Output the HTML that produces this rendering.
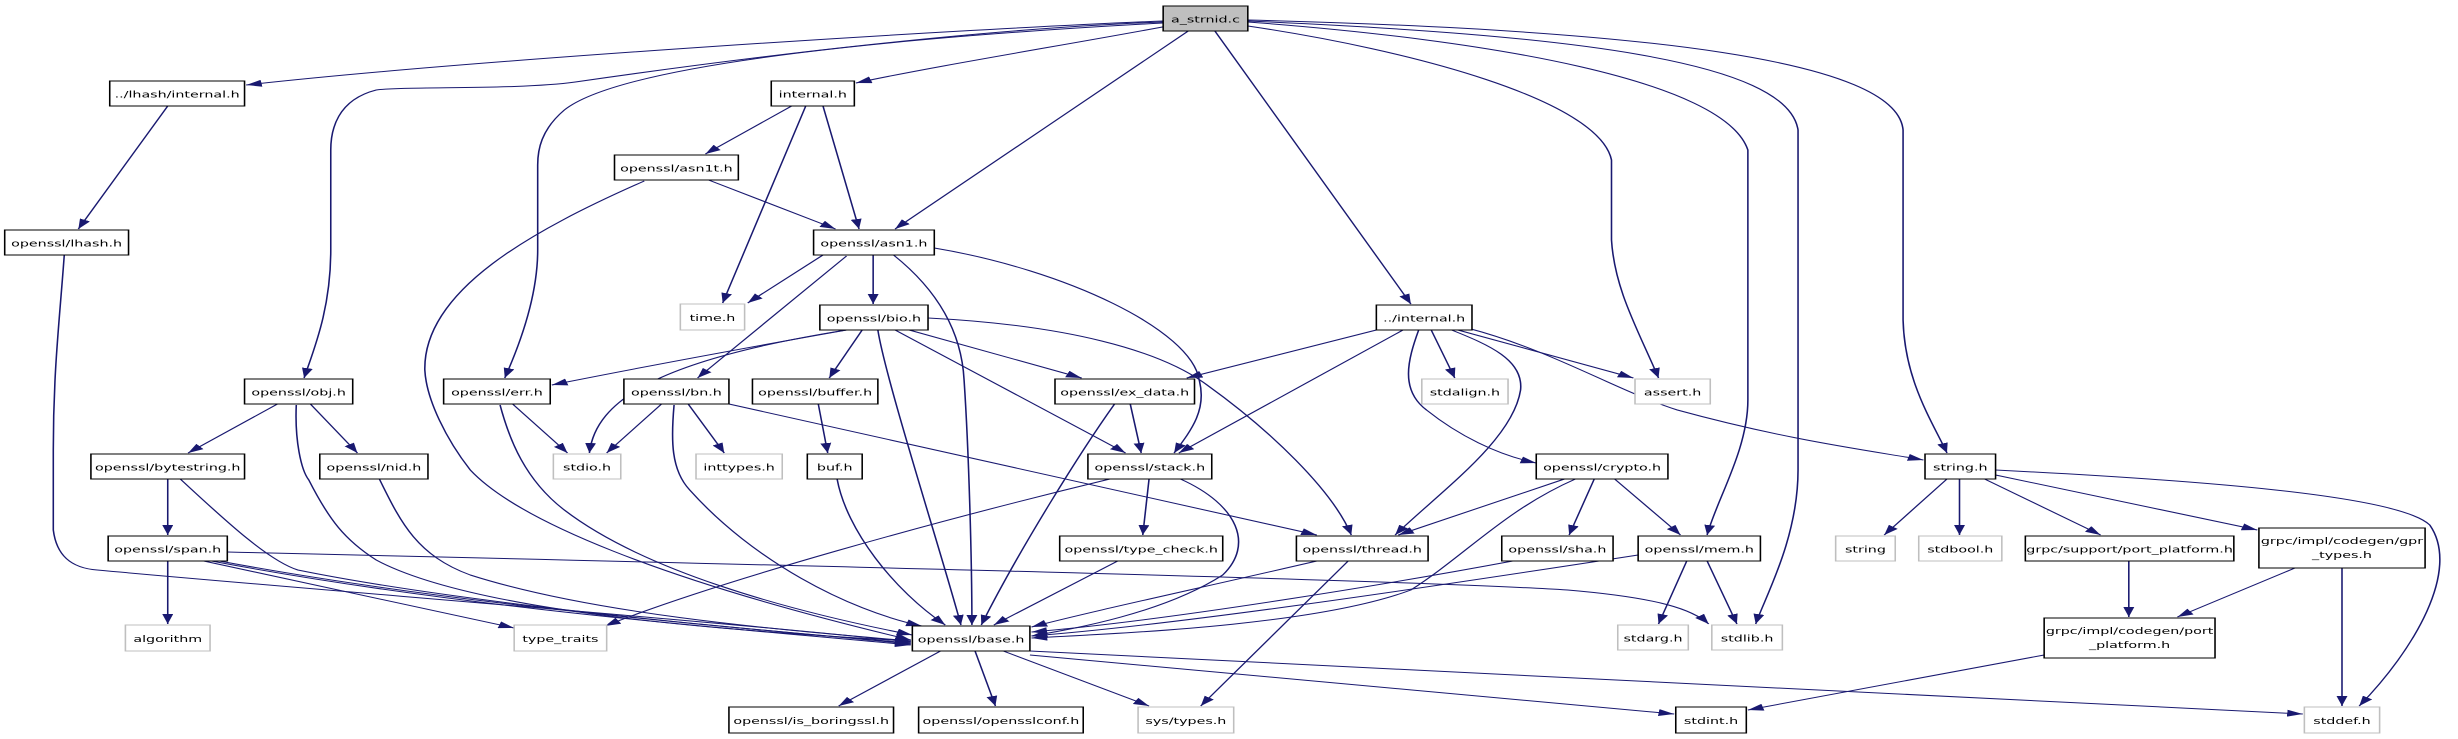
<!DOCTYPE html>
<html><head><meta charset="utf-8"><style>
html,body{margin:0;padding:0;background:#fff;}
svg{display:block;}
text{font-family:"DejaVu Sans","Liberation Sans",sans-serif;font-size:9.1px;fill:#000;text-anchor:middle;}
.e{fill:none;stroke:#191970;stroke-width:1;marker-end:url(#a);}
.n{fill:#fff;stroke:#000;stroke-width:1;}
.g{fill:#fff;stroke:#bfbfbf;stroke-width:1;}
</style></head><body>
<svg width="2458" height="739" viewBox="0 0 1568 739" preserveAspectRatio="none" xmlns="http://www.w3.org/2000/svg">
<defs><marker id="a" markerUnits="userSpaceOnUse" markerWidth="10" markerHeight="7" refX="10" refY="3.5" orient="auto"><path d="M0,0 L10,3.5 L0,7 z" fill="#191970"/></marker></defs>
<g>
<path class="e" d="M742,21 C600,30 300,60 157,85"/>
<path class="e" d="M742,22 C600,30 420,70 367,82 C330,90 260,86 240,90 C215,100 211,130 211,150 L211,250 C211,310 200,350 194,378"/>
<path class="e" d="M742,23 C600,35 400,60 360,110 C345,130 343,150 343,165 L343,250 C343,300 330,350 322,378"/>
<path class="e" d="M745,26 C680,45 600,65 546,83"/>
<path class="e" d="M758,31 L571,229"/>
<path class="e" d="M775,31 L900,304"/>
<path class="e" d="M796,26 C900,50 1020,100 1028,160 L1028,240 C1030,290 1045,330 1058,378"/>
<path class="e" d="M796,22 C950,40 1100,80 1115,150 L1115,400 C1115,450 1095,500 1089,535"/>
<path class="e" d="M796,21 C1000,35 1140,60 1147,130 L1147,470 C1147,540 1125,600 1120,624"/>
<path class="e" d="M796,20 C1050,30 1210,60 1214,130 L1214,320 C1215,380 1232,420 1242,453"/>
<path class="e" d="M107,106 L50,229"/>
<path class="e" d="M41,255 C38,320 34,370 34,450 L34,530 C36,555 45,568 62,570 C200,590 450,620 581,642"/>
<path class="e" d="M505,106 L450,154"/>
<path class="e" d="M514,106 L461,303"/>
<path class="e" d="M525,106 L548,229"/>
<path class="e" d="M452,180 L533,229"/>
<path class="e" d="M411,181 C340,230 270,290 271,370 C272,400 285,440 300,470 C330,520 420,580 581,640"/>
<path class="e" d="M525,255 L477,303"/>
<path class="e" d="M540,256 L445,378"/>
<path class="e" d="M557,255 L557,304"/>
<path class="e" d="M596,248 C680,270 760,330 765,380 C770,410 760,430 749,453"/>
<path class="e" d="M570,255 C590,280 613,320 615,380 C618,450 620,560 620,625"/>
<path class="e" d="M540,330 C450,355 400,370 352,385"/>
<path class="e" d="M540,330 C420,360 380,400 376,453"/>
<path class="e" d="M550,330 L529,378"/>
<path class="e" d="M580,330 L690,378"/>
<path class="e" d="M571,330 L718,453"/>
<path class="e" d="M560,330 C565,380 600,550 613,625"/>
<path class="e" d="M592,318 C680,325 740,350 770,385 C810,430 850,490 862,535"/>
<path class="e" d="M878,330 L757,378"/>
<path class="e" d="M895,330 L752,453"/>
<path class="e" d="M913,330 L928,378"/>
<path class="e" d="M930,330 L1042,378"/>
<path class="e" d="M905,330 C898,360 893,390 910,410 C930,435 955,455 980,463"/>
<path class="e" d="M926,330 C950,345 972,360 970,390 C965,440 920,490 890,535"/>
<path class="e" d="M936,328 C990,350 1030,390 1070,410 C1140,440 1190,450 1227,460"/>
<path class="e" d="M177,404 L120,453"/>
<path class="e" d="M198,404 L228,453"/>
<path class="e" d="M189,405 C188,440 192,470 197,480 C210,520 220,540 240,560 C300,610 450,630 581,641"/>
<path class="e" d="M327,404 L362,453"/>
<path class="e" d="M319,405 C325,440 335,480 360,510 C410,570 500,610 582,635"/>
<path class="e" d="M422,404 L387,453"/>
<path class="e" d="M439,404 L462,453"/>
<path class="e" d="M430,405 C428,440 428,470 440,490 C480,560 540,610 588,626"/>
<path class="e" d="M465,404 L840,535"/>
<path class="e" d="M522,404 L528,453"/>
<path class="e" d="M534,479 C540,530 570,590 603,625"/>
<path class="e" d="M721,404 L728,453"/>
<path class="e" d="M711,404 C690,450 650,550 626,625"/>
<path class="e" d="M733,479 L729,535"/>
<path class="e" d="M708,479 C600,520 460,580 386,626"/>
<path class="e" d="M753,479 C790,505 800,545 780,575 C740,615 680,630 658,636"/>
<path class="e" d="M107,479 L107,535"/>
<path class="e" d="M115,479 C140,515 170,560 190,570 C300,605 480,630 581,643"/>
<path class="e" d="M242,479 C255,520 265,555 300,575 C380,615 500,630 581,641"/>
<path class="e" d="M107,561 L107,624"/>
<path class="e" d="M130,561 L328,628"/>
<path class="e" d="M135,561 C300,610 480,630 581,645"/>
<path class="e" d="M140,561 C300,608 480,628 581,644"/>
<path class="e" d="M145,552 C500,565 900,580 1000,590 C1060,598 1080,610 1090,624"/>
<path class="e" d="M713,561 L634,625"/>
<path class="e" d="M840,561 C760,590 700,610 658,627"/>
<path class="e" d="M860,561 L766,706"/>
<path class="e" d="M998,479 L892,535"/>
<path class="e" d="M1005,479 C960,510 935,555 900,590 C840,625 720,633 658,638"/>
<path class="e" d="M1017,479 L1001,535"/>
<path class="e" d="M1030,479 L1072,535"/>
<path class="e" d="M965,561 C900,580 750,620 658,632"/>
<path class="e" d="M1045,555 C900,590 750,625 658,636"/>
<path class="e" d="M1076,561 L1058,624"/>
<path class="e" d="M1089,561 L1108,624"/>
<path class="e" d="M1242,479 L1202,535"/>
<path class="e" d="M1250,479 L1250,535"/>
<path class="e" d="M1266,479 L1340,535"/>
<path class="e" d="M1273,475 L1440,530"/>
<path class="e" d="M1273,470 C1400,480 1530,495 1550,525 C1570,570 1540,650 1505,706"/>
<path class="e" d="M1358,561 L1358,617"/>
<path class="e" d="M1464,568 L1389,617"/>
<path class="e" d="M1494,568 L1494,706"/>
<path class="e" d="M1304,655 L1115,710"/>
<path class="e" d="M600,651 L535,706"/>
<path class="e" d="M622,651 L635,706"/>
<path class="e" d="M640,651 L733,706"/>
<path class="e" d="M657,655 L1068,714"/>
<path class="e" d="M657,651 L1469,714"/>
</g>
<g>
<rect x="742" y="6" width="54" height="25" fill="#bfbfbf" stroke="#000"/><text x="769" y="22.5">a_strnid.c</text>
<rect class="n" x="70" y="81" width="86" height="25"/><text x="113" y="97.5">../lhash/internal.h</text>
<rect class="n" x="3" y="230" width="79" height="25"/><text x="42.5" y="246.5">openssl/lhash.h</text>
<rect class="n" x="492" y="81" width="53" height="25"/><text x="518.5" y="97.5">internal.h</text>
<rect class="n" x="392" y="155" width="79" height="25"/><text x="431.5" y="171.5">openssl/asn1t.h</text>
<rect class="n" x="519" y="230" width="77" height="25"/><text x="557.5" y="246.5">openssl/asn1.h</text>
<rect class="g" x="434" y="304" width="41" height="26"/><text x="454.5" y="321">time.h</text>
<rect class="n" x="523" y="305" width="69" height="25"/><text x="557.5" y="321.5">openssl/bio.h</text>
<rect class="n" x="878" y="305" width="61" height="25"/><text x="908.5" y="321.5">../internal.h</text>
<rect class="n" x="156" y="379" width="69" height="25"/><text x="190.5" y="395.5">openssl/obj.h</text>
<rect class="n" x="283" y="379" width="68" height="25"/><text x="317" y="395.5">openssl/err.h</text>
<rect class="n" x="398" y="379" width="67" height="25"/><text x="431.5" y="395.5">openssl/bn.h</text>
<rect class="n" x="480" y="379" width="80" height="25"/><text x="520" y="395.5">openssl/buffer.h</text>
<rect class="n" x="673" y="379" width="89" height="25"/><text x="717.5" y="395.5">openssl/ex_data.h</text>
<rect class="g" x="907" y="379" width="55" height="25"/><text x="934.5" y="395.5">stdalign.h</text>
<rect class="g" x="1043" y="379" width="48" height="25"/><text x="1067" y="395.5">assert.h</text>
<rect class="n" x="58" y="454" width="98" height="25"/><text x="107" y="470.5">openssl/bytestring.h</text>
<rect class="n" x="204" y="454" width="69" height="25"/><text x="238.5" y="470.5">openssl/nid.h</text>
<rect class="g" x="353" y="454" width="43" height="25"/><text x="374.5" y="470.5">stdio.h</text>
<rect class="g" x="444" y="454" width="55" height="25"/><text x="471.5" y="470.5">inttypes.h</text>
<rect class="n" x="515" y="454" width="35" height="25"/><text x="532.5" y="470.5">buf.h</text>
<rect class="n" x="694" y="454" width="79" height="25"/><text x="733.5" y="470.5">openssl/stack.h</text>
<rect class="n" x="980" y="454" width="84" height="25"/><text x="1022" y="470.5">openssl/crypto.h</text>
<rect class="n" x="1228" y="454" width="45" height="25"/><text x="1250.5" y="470.5">string.h</text>
<rect class="n" x="69" y="536" width="76" height="25"/><text x="107" y="552.5">openssl/span.h</text>
<rect class="n" x="676" y="536" width="104" height="25"/><text x="728" y="552.5">openssl/type_check.h</text>
<rect class="n" x="827" y="536" width="84" height="25"/><text x="869" y="552.5">openssl/thread.h</text>
<rect class="n" x="958" y="536" width="71" height="25"/><text x="993.5" y="552.5">openssl/sha.h</text>
<rect class="n" x="1045" y="536" width="78" height="25"/><text x="1084" y="552.5">openssl/mem.h</text>
<rect class="g" x="1171" y="536" width="38" height="25"/><text x="1190" y="552.5">string</text>
<rect class="g" x="1224" y="536" width="53" height="25"/><text x="1250.5" y="552.5">stdbool.h</text>
<rect class="n" x="1292" y="536" width="133" height="25"/><text x="1358.5" y="552.5">grpc/support/port_platform.h</text>
<rect class="n" x="1441" y="528" width="106" height="40"/><text x="1494" y="544">grpc/impl/codegen/gpr</text><text x="1494" y="558">_types.h</text>
<rect class="g" x="80" y="625" width="54" height="26"/><text x="107" y="642">algorithm</text>
<rect class="g" x="328" y="625" width="59" height="26"/><text x="357.5" y="642">type_traits</text>
<rect class="n" x="582" y="626" width="75" height="25"/><text x="619.5" y="642.5">openssl/base.h</text>
<rect class="g" x="1032" y="625" width="45" height="25"/><text x="1054.5" y="641.5">stdarg.h</text>
<rect class="g" x="1092" y="625" width="45" height="25"/><text x="1114.5" y="641.5">stdlib.h</text>
<rect class="n" x="1304" y="618" width="109" height="40"/><text x="1358.5" y="634">grpc/impl/codegen/port</text><text x="1358.5" y="648">_platform.h</text>
<rect class="n" x="465" y="707" width="105" height="26"/><text x="517.5" y="724">openssl/is_boringssl.h</text>
<rect class="n" x="586" y="707" width="105" height="26"/><text x="638.5" y="724">openssl/opensslconf.h</text>
<rect class="g" x="726" y="707" width="61" height="26"/><text x="756.5" y="724">sys/types.h</text>
<rect class="n" x="1069" y="707" width="45" height="26"/><text x="1091.5" y="724">stdint.h</text>
<rect class="g" x="1470" y="707" width="48" height="26"/><text x="1494" y="724">stddef.h</text>
</g>
</svg>
</body></html>
